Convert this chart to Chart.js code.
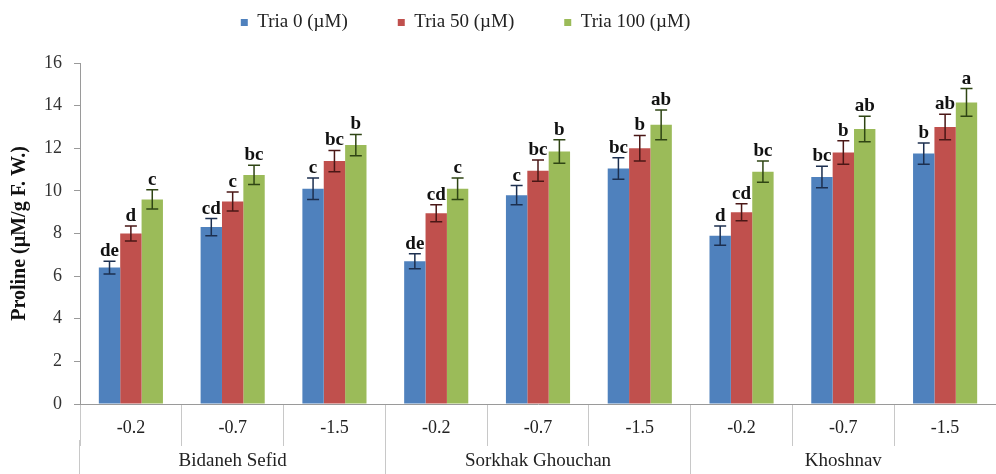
<!DOCTYPE html>
<html>
<head>
<meta charset="utf-8">
<script src="https://cdn.jsdelivr.net/npm/chart.js@4.4.0/dist/chart.umd.min.js"></script>
<style>
  html, body { margin: 0; padding: 0; background: #fff; }
  #wrap { width: 996px; height: 474px; }
</style>
</head>
<body>
<div id="wrap"><canvas id="prolineChart"></canvas></div>
<script>
// osmotic levels (MPa) inside each cultivar
var levels = ['-0.2', '-0.7', '-1.5', '-0.2', '-0.7', '-1.5', '-0.2', '-0.7', '-1.5'];
var cultivars = ['Bidaneh Sefid', 'Sorkhak Ghouchan', 'Khoshnav'];

var tria0 = [6.4, 8.3, 10.1, 6.7, 9.8, 11.05, 7.9, 10.65, 11.75];
var tria50 = [8.0, 9.5, 11.4, 8.95, 10.95, 12.0, 9.0, 11.8, 13.0];
var tria100 = [9.6, 10.75, 12.15, 10.1, 11.85, 13.1, 10.9, 12.9, 14.15];

// standard errors
var err0 = [0.3, 0.4, 0.5, 0.35, 0.45, 0.5, 0.45, 0.5, 0.5];
var err50 = [0.35, 0.45, 0.5, 0.4, 0.5, 0.6, 0.4, 0.55, 0.6];
var err100 = [0.45, 0.45, 0.5, 0.5, 0.55, 0.7, 0.5, 0.6, 0.65];

// Duncan letters
var letters0 = ['de', 'cd', 'c', 'de', 'c', 'bc', 'd', 'bc', 'b'];
var letters50 = ['d', 'c', 'bc', 'cd', 'bc', 'b', 'cd', 'b', 'ab'];
var letters100 = ['c', 'bc', 'b', 'c', 'b', 'ab', 'bc', 'ab', 'a'];

var serif = '"Liberation Serif", "DejaVu Serif", serif';

// error bars + letters on top of each bar
var errorBarPlugin = {
  id: 'errorBars',
  afterDatasetsDraw: function (chart) {
    var ctx = chart.ctx;
    var yScale = chart.scales.y;
    ctx.save();
    chart.data.datasets.forEach(function (ds, di) {
      var meta = chart.getDatasetMeta(di);
      meta.data.forEach(function (bar, i) {
        var v = ds.data[i];
        var e = ds.errors[i];
        var yTop = yScale.getPixelForValue(v + e);
        var yBot = yScale.getPixelForValue(v - e);
        var x = bar.x;
        ctx.strokeStyle = ds.errorColor;
        ctx.lineWidth = 1.5;
        ctx.beginPath();
        ctx.moveTo(x, yTop);
        ctx.lineTo(x, yBot);
        ctx.moveTo(x - 6, yTop);
        ctx.lineTo(x + 6, yTop);
        ctx.moveTo(x - 6, yBot);
        ctx.lineTo(x + 6, yBot);
        ctx.stroke();

        ctx.fillStyle = '#111';
        ctx.font = 'bold 19px ' + serif;
        ctx.textAlign = 'center';
        ctx.textBaseline = 'alphabetic';
        ctx.fillText(ds.letters[i], x, yTop - 5);
      });
    });
    ctx.restore();
  }
};

// move the legend row up and a bit to the left
var legendShift = {
  id: 'legendShift',
  afterLayout: function (chart) {
    var lg = chart.legend;
    lg.left -= 65;
    lg.top -= 21;
    lg.bottom -= 21;
  }
};

var ctx = document.getElementById('prolineChart').getContext('2d');
var chart = new Chart(ctx, {
  type: 'bar',
  data: {
    labels: levels,
    datasets: [{
      label: 'Tria 0 (µM)',
      data: tria0,
      errors: err0,
      letters: letters0,
      errorColor: '#1c2f4f',
      backgroundColor: '#4F81BD'
    }, {
      label: 'Tria 50 (µM)',
      data: tria50,
      errors: err50,
      letters: letters50,
      errorColor: '#4a1716',
      backgroundColor: '#C0504D'
    }, {
      label: 'Tria 100 (µM)',
      data: tria100,
      errors: err100,
      letters: letters100,
      errorColor: '#2f4514',
      backgroundColor: '#9BBB59'
    }]
  },
  options: {
    responsive: true,
    maintainAspectRatio: false,
    animation: false,
    layout: {
      padding: { top: -16, left: 0, right: 0, bottom: 0 }
    },
    datasets: {
      bar: {
        categoryPercentage: 0.63,
        barPercentage: 1.0
      }
    },
    plugins: {
      legend: {
        position: 'top',
        labels: {
          font: { family: serif, size: 19 },
          color: '#222',
          boxWidth: 7,
          boxHeight: 7,
          padding: 50
        }
      },
      tooltip: { enabled: false }
    },
    scales: {
      x: {
        type: 'category',
        offset: true,
        weight: 0,
        grid: {
          offset: true,
          drawOnChartArea: false,
          tickLength: 42,
          color: '#c8c8c8'
        },
        border: { color: '#9a9a9a' },
        ticks: {
          font: { family: serif, size: 18 },
          color: '#222',
          padding: -29,
          maxRotation: 0
        },
        afterFit: function (scale) { scale.height = 36; }
      },
      x2: {
        type: 'category',
        position: 'bottom',
        labels: cultivars,
        offset: true,
        weight: 1,
        grid: {
          offset: true,
          drawOnChartArea: false,
          tickLength: 40,
          color: '#c8c8c8'
        },
        border: { display: false },
        ticks: {
          font: { family: serif, size: 19 },
          color: '#222',
          padding: -30,
          maxRotation: 0
        },
        afterFit: function (scale) { scale.height = 34; }
      },
      y: {
        min: 0,
        max: 16,
        ticks: {
          stepSize: 2,
          font: { family: serif, size: 18 },
          color: '#333',
          padding: 12
        },
        grid: {
          drawOnChartArea: false,
          tickLength: 6,
          color: '#9a9a9a'
        },
        border: { color: '#9a9a9a' },
        title: {
          display: true,
          text: 'Proline (µM/g F. W.)',
          font: { family: serif, size: 20, weight: 'bold' },
          color: '#111',
          padding: { top: 8, bottom: 4 }
        },
        afterFit: function (scale) { scale.width = 80; }
      }
    }
  },
  plugins: [errorBarPlugin, legendShift]
});
</script>
</body>
</html>
